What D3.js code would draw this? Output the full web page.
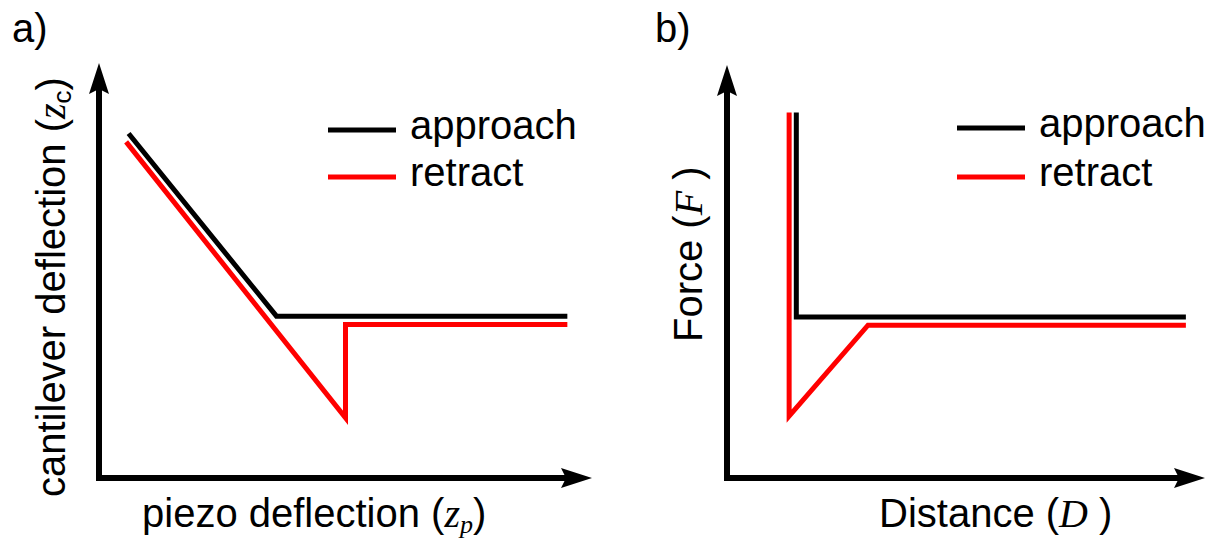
<!DOCTYPE html>
<html lang="en">
  <head>
  <title>Force curves</title>
    <style>
      body { margin: 0; background: #fff; }
      text { font-family: 'Liberation Sans', Arial, sans-serif; font-size: 40px; fill: #000; }
      .math { font-family: 'Liberation Serif', 'DejaVu Serif', serif; font-style: italic; }
      .curve { fill: none; stroke-width: 5px; stroke-linejoin: miter; stroke-linecap: butt; }
      .axis { stroke: #000; stroke-width: 6px; fill: none; }
    </style>
  </head>
  <body>
<div id="chart"></div>
    <script src="https://d3js.org/d3.v7.min.js"></script>
    <script>
    // series
    var seriesNames = ["approach", "retract"];
    var seriesColors = ["#000000", "#ff0000"];

    // panel a: cantilever deflection vs piezo deflection
    var piezoApproach = [0.6, 3.6, 9.5];
    var cantApproach  = [8.3, 3.9, 3.9];
    var piezoRetract  = [0.55, 5.0, 5.0, 9.5];
    var cantRetract   = [8.1, 1.45, 3.7, 3.7];

    // panel b: force vs distance
    var distApproach  = [1.45, 1.45, 9.6];
    var forceApproach = [8.85, 3.9, 3.9];
    var distRetract   = [1.3, 1.3, 2.95, 9.6];
    var forceRetract  = [8.85, 1.5, 3.7, 3.7];

    var width = 1211, height = 538;

    var svg = d3.select("#chart").append("svg")
        .attr("width", width)
        .attr("height", height);

    var panels = [
      { label: "a)", lx: 12,
        x: d3.scaleLinear().domain([0, 10]).range([99, 592]),
        y: d3.scaleLinear().domain([0, 10]).range([478, 63]),
        series: [d3.zip(piezoApproach, cantApproach), d3.zip(piezoRetract, cantRetract)],
        legendX: 328, legendY: [130, 177] },
      { label: "b)", lx: 655,
        x: d3.scaleLinear().domain([0, 10]).range([727, 1205]),
        y: d3.scaleLinear().domain([0, 10]).range([478, 65]),
        series: [d3.zip(distApproach, forceApproach), d3.zip(distRetract, forceRetract)],
        legendX: 957, legendY: [128, 177] }
    ];

    panels.forEach(function(p) {
      var g = svg.append("g");
      var x0 = p.x.range()[0], x1 = p.x.range()[1];
      var y0 = p.y.range()[0], y1 = p.y.range()[1];

      g.append("text").attr("x", p.lx).attr("y", 42).text(p.label);

      // axes with arrow heads
      g.append("line").attr("class", "axis")
          .attr("x1", x0).attr("y1", y0 + 3).attr("x2", x0).attr("y2", y1 + 24);
      g.append("path").attr("fill", "#000")
          .attr("d", "M" + x0 + "," + y1 + "L" + (x0 + 10) + "," + (y1 + 31) + "L" + x0 + "," + (y1 + 26) + "L" + (x0 - 10) + "," + (y1 + 31) + "Z");
      g.append("line").attr("class", "axis")
          .attr("x1", x0 - 3).attr("y1", y0).attr("x2", x1 - 24).attr("y2", y0);
      g.append("path").attr("fill", "#000")
          .attr("d", "M" + x1 + "," + y0 + "L" + (x1 - 31) + "," + (y0 - 10) + "L" + (x1 - 26) + "," + y0 + "L" + (x1 - 31) + "," + (y0 + 10) + "Z");

      var line = d3.line()
          .x(function(d) { return p.x(d[0]); })
          .y(function(d) { return p.y(d[1]); });

      // draw retract first so approach sits on top
      [1, 0].forEach(function(i) {
        g.append("path").attr("class", "curve")
            .attr("stroke", seriesColors[i])
            .attr("d", line(p.series[i]));
      });

      seriesNames.forEach(function(name, i) {
        g.append("line")
            .attr("x1", p.legendX).attr("x2", p.legendX + 68)
            .attr("y1", p.legendY[i]).attr("y2", p.legendY[i])
            .attr("stroke", seriesColors[i]).attr("stroke-width", 5);
        g.append("text")
            .attr("x", p.legendX + 82).attr("y", p.legendY[i] + 9)
            .text(name);
      });
    });

    // axis titles
    var ya = svg.append("text").attr("transform", "translate(65,497) rotate(-90)");
    ya.append("tspan").text("cantilever deflection (");
    ya.append("tspan").attr("class", "math").text("z");
    ya.append("tspan").attr("font-size", "26px").attr("dy", 6).text("c");
    ya.append("tspan").attr("dy", -6).text(")");

    var xa = svg.append("text").attr("x", 142).attr("y", 527);
    xa.append("tspan").text("piezo deflection (");
    xa.append("tspan").attr("class", "math").text("z");
    xa.append("tspan").attr("class", "math").attr("font-size", "26px").attr("dy", 6).text("p");
    xa.append("tspan").attr("dy", -6).text(")");

    var yb = svg.append("text").attr("transform", "translate(702,342) rotate(-90)");
    yb.append("tspan").text("Force (");
    yb.append("tspan").attr("class", "math").text("F");
    yb.append("tspan").text(" )");

    var xb = svg.append("text").attr("x", 879).attr("y", 527);
    xb.append("tspan").text("Distance (");
    xb.append("tspan").attr("class", "math").text("D");
    xb.append("tspan").text(" )");
    </script>
  </body>
</html>
